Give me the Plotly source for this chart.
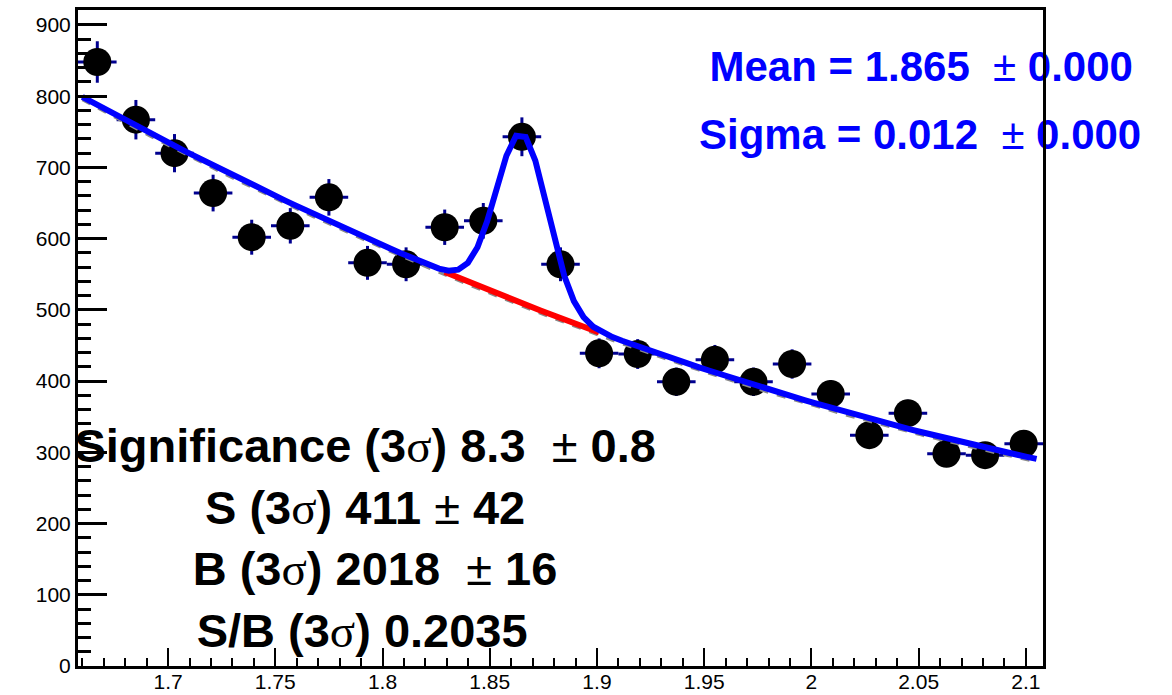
import numpy as np
import plotly.graph_objects as go

# ---- data ----
bin_lo, bin_w, n_bins = 1.658, 0.018, 25
bin_centers = [round(bin_lo + bin_w * (i + 0.5), 4) for i in range(n_bins)]
counts = [848, 767, 720, 664, 602, 618, 658, 566, 564, 616, 625, 743, 564,
          439, 438, 399, 430, 399, 424, 382, 324, 355, 298, 296, 312]
count_err = [float(np.sqrt(c)) for c in counts]

# fit model parameters (pol2 background + gaussian)
fit_range = [1.66, 2.105]
bkg_pars = [799.0, -1645.0, 1130.0]       # p0 + p1*(x-1.66) + p2*(x-1.66)^2
bkg_sb_pars = [795.0, -1645.0, 1130.0]    # sideband background (grey dashed)
gaus_amp, gaus_mean, gaus_sigma = 238.0, 1.865, 0.012

x_ticks = [1.7, 1.75, 1.8, 1.85, 1.9, 1.95, 2.0, 2.05, 2.1]
x_ticktext = ["1.7", "1.75", "1.8", "1.85", "1.9", "1.95", "2", "2.05", "2.1"]
y_ticks = [0, 100, 200, 300, 400, 500, 600, 700, 800, 900]
y_ticktext = [str(v) for v in y_ticks]


def bkg(x, p):
    u = x - fit_range[0]
    return p[0] + p[1] * u + p[2] * u * u


def total(x):
    return bkg(x, bkg_pars) + gaus_amp * np.exp(-0.5 * ((x - gaus_mean) / gaus_sigma) ** 2)


xf = np.linspace(fit_range[0], fit_range[1], 100)
xr = np.linspace(gaus_mean - 3 * gaus_sigma, gaus_mean + 3 * gaus_sigma, 30)

fig = go.Figure()

fig.add_trace(go.Scatter(
    x=bin_centers, y=counts, mode="markers",
    marker=dict(color="black", size=28),
    error_y=dict(type="data", array=count_err, color="#00008f", thickness=3, width=0),
    error_x=dict(type="constant", value=bin_w / 2, color="#00008f", thickness=3, width=0),
    showlegend=False, hoverinfo="skip"))

fig.add_trace(go.Scatter(x=xf, y=bkg(xf, bkg_sb_pars), mode="lines",
                         line=dict(color="#8a8a8a", width=3, dash="dash"),
                         showlegend=False))
fig.add_trace(go.Scatter(x=xr, y=bkg(xr, bkg_pars), mode="lines",
                         line=dict(color="#ff0000", width=6), showlegend=False))
fig.add_trace(go.Scatter(x=xf, y=total(xf), mode="lines",
                         line=dict(color="#0000ff", width=6), showlegend=False))

sig = '<span style="font-family:Liberation Serif;font-weight:normal">σ</span>'
pm = '<span style="font-weight:normal">±</span>'


def txt(x, y, s, size, color):
    fig.add_trace(go.Scatter(
        x=[x], y=[y], mode="text", text=[s], textposition="middle center",
        textfont=dict(family="Liberation Sans, Arial, sans-serif", size=size, color=color),
        cliponaxis=False, showlegend=False, hoverinfo="skip"))


txt(2.0512, 836, f"<b>Mean = 1.865  {pm} 0.000</b>", 42, "#0000ff")
txt(2.0507, 740, f"<b>Sigma = 0.012  {pm} 0.000</b>", 42, "#0000ff")
txt(1.7919, 303, f"<b>Significance (3{sig}) 8.3  {pm} 0.8</b>", 47, "black")
txt(1.7919, 216, f"<b>S (3{sig}) 411 {pm} 42</b>", 47, "black")
txt(1.7965, 130, f"<b>B (3{sig}) 2018  {pm} 16</b>", 47, "black")
txt(1.7905, 43, f"<b>S/B (3{sig}) 0.2035</b>", 47, "black")

axis_common = dict(showline=True, linecolor="black", linewidth=3, mirror=True,
                   ticks="inside", tickcolor="black", showgrid=False, zeroline=False,
                   automargin=False,
                   tickfont=dict(family="Liberation Sans, Arial, sans-serif", size=21,
                                 color="black"))

fig.update_xaxes(range=[1.658, 2.108], tickmode="array", tickvals=x_ticks,
                 ticktext=x_ticktext, ticklen=18, tickwidth=2,
                 ticklabelstandoff=-5,
                 minor=dict(ticks="inside", dtick=0.01, tick0=1.7, ticklen=8,
                            tickwidth=2, tickcolor="black", showgrid=False),
                 **axis_common)
fig.update_yaxes(range=[0, 921], tickmode="array", tickvals=y_ticks,
                 ticktext=y_ticktext, ticklen=29, tickwidth=3,
                 minor=dict(ticks="inside", dtick=20, tick0=0, ticklen=13,
                            tickwidth=3, tickcolor="black", showgrid=False),
                 **axis_common)

fig.update_layout(width=1172, height=695,
                  margin=dict(l=78, r=129, t=10, b=29),
                  paper_bgcolor="white", plot_bgcolor="white")

fig.write_html("out.html")
